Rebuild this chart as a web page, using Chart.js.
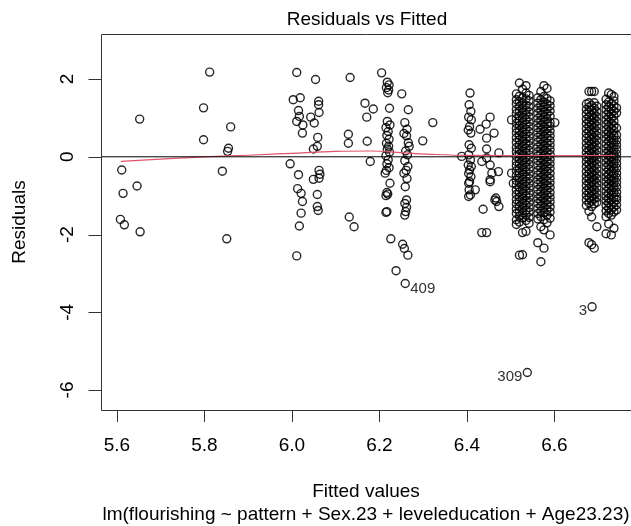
<!DOCTYPE html>
<html>
<head>
<meta charset="utf-8">
<title>Residuals vs Fitted</title>
<script src="https://cdn.jsdelivr.net/npm/chart.js@4.4.1/dist/chart.umd.min.js"></script>
<style>
  body { margin: 0; background: #fff; }
  #wrap { width: 631px; height: 526px; }
</style>
</head>
<body>
<div id="wrap"><canvas id="residChart" width="631" height="526"></canvas></div>
<script>
// axis ticks
const xTicks = [5.6, 5.8, 6.0, 6.2, 6.4, 6.6];
const yTicks = [-6, -4, -2, 0, 2];

// [fitted, residual]
const groupLow = [
  [5.611, -0.34], [5.614, -0.94], [5.646, -0.75], [5.608, -1.61], [5.617, -1.75],
  [5.653, -1.93], [5.652, 0.97], [5.812, 2.18], [5.798, 1.26], [5.798, 0.44],
  [5.841, -0.37], [5.86, 0.77], [5.855, 0.22], [5.853, 0.14], [5.851, -2.11]
];
const group60 = [
  [6.011, 2.17], [6.054, 1.99], [6.133, 2.04], [6.003, 1.47], [6.019, 1.52],
  [6.015, 1.19], [6.017, 1.04], [6.011, 0.91], [6.025, 0.82], [6.024, 0.61],
  [6.043, 1.02], [6.051, 0.87], [6.061, 1.43], [6.061, 1.34], [6.062, 1.14],
  [6.059, 0.50], [6.058, 0.27], [6.049, 0.20], [6.129, 0.58], [6.129, 0.35],
  [5.996, -0.18], [6.015, -0.46], [6.013, -0.82], [6.021, -0.94], [6.024, -1.15],
  [6.021, -1.45], [6.017, -1.78], [6.049, -0.58], [6.062, -0.35], [6.064, -0.45],
  [6.062, -0.55], [6.058, -0.97], [6.058, -1.28], [6.06, -1.38], [6.131, -1.55],
  [6.142, -1.80], [6.011, -2.55]
];
const group62 = [
  [6.205, 2.16], [6.167, 1.38], [6.186, 1.23], [6.171, 1.02], [6.172, 0.40], [6.179, -0.12],
  [6.218, 1.92], [6.222, 1.85], [6.216, 1.78], [6.221, 1.72], [6.219, 1.65], [6.223, 1.25],
  [6.218, 0.91], [6.224, 0.82], [6.215, 0.75], [6.22, 0.65], [6.217, 0.55], [6.222, 0.45],
  [6.216, 0.35], [6.221, 0.27], [6.218, 0.20], [6.223, 0.12], [6.215, 0.03], [6.22, -0.08],
  [6.217, -0.18], [6.222, -0.28], [6.216, -0.35], [6.213, -0.42], [6.224, -0.68],
  [6.217, -0.92], [6.219, -0.96], [6.215, -1.0], [6.217, -1.41], [6.215, -1.43],
  [6.226, -2.11], [6.238, -2.93],
  [6.251, 1.62], [6.266, 1.21], [6.258, 0.88], [6.263, 0.71], [6.256, 0.60], [6.262, 0.54],
  [6.266, 0.36], [6.268, 0.27], [6.26, 0.15], [6.264, 0.05], [6.258, -0.10], [6.265, -0.25],
  [6.261, -0.35], [6.256, -0.42], [6.263, -0.56], [6.259, -0.77], [6.262, -1.11],
  [6.258, -1.20], [6.262, -1.30], [6.26, -1.41], [6.258, -1.50], [6.253, -2.25],
  [6.257, -2.36], [6.265, -2.53]
];
const group64 = [
  [6.322, 0.88], [6.299, 0.41],
  [6.407, 1.64], [6.405, 1.34], [6.409, 1.17], [6.404, 1.02], [6.41, 0.95], [6.406, 0.78],
  [6.403, 0.69], [6.409, 0.61], [6.405, 0.31], [6.41, 0.22], [6.404, 0.05], [6.388, 0.01],
  [6.408, -0.08], [6.403, -0.21], [6.41, -0.25], [6.406, -0.34], [6.404, -0.43],
  [6.409, -0.51], [6.406, -0.64], [6.404, -0.68], [6.405, -0.85], [6.408, -0.98], [6.404, -1.02],
  [6.453, 1.02], [6.444, 0.84], [6.43, 0.71], [6.462, 0.61], [6.445, 0.48], [6.445, 0.20],
  [6.473, 0.10], [6.434, -0.12], [6.445, -0.03], [6.453, -0.21], [6.472, -0.38],
  [6.457, -0.42], [6.453, -0.59], [6.453, -0.64], [6.502, -0.42], [6.506, -0.68],
  [6.419, -0.85], [6.466, -1.06], [6.464, -1.11], [6.468, -1.15], [6.473, -1.28],
  [6.437, -1.35], [6.434, -1.95], [6.445, -1.95], [6.502, 0.95], [6.601, 0.88]
];

// dense columns: one fitted value per sub-column, residuals listed
const bandX = [6.513, 6.520, 6.527, 6.535, 6.542,
               6.562, 6.569, 6.576, 6.583, 6.590,
               6.673, 6.679, 6.685, 6.691, 6.697,
               6.718, 6.724, 6.730, 6.736, 6.742];
const bandY = [
  [1.62, 1.47, 1.36, 1.22, 1.11, 0.98, 0.86, 0.73, 0.62, 0.49, 0.37, 0.24, 0.13, 0.01, -0.12, -0.23, -0.36, -0.48, -0.61, -0.72, -0.85, -0.97, -1.10, -1.21, -1.34, -1.46, -1.62, -1.74],
  [1.90, 1.56, 1.42, 1.30, 1.17, 1.05, 0.92, 0.80, 0.67, 0.55, 0.43, 0.30, 0.18, 0.07, -0.06, -0.18, -0.30, -0.42, -0.55, -0.67, -0.79, -0.91, -1.04, -1.16, -1.28, -1.41, -1.53, -1.68, -2.53],
  [1.74, 1.52, 1.39, 1.26, 1.14, 1.01, 0.89, 0.76, 0.64, 0.52, 0.40, 0.27, 0.15, 0.04, -0.09, -0.21, -0.33, -0.45, -0.58, -0.70, -0.82, -0.94, -1.07, -1.19, -1.31, -1.44, -1.57, -1.95, -2.52],
  [1.83, 1.64, 1.49, 1.33, 1.20, 1.08, 0.95, 0.83, 0.70, 0.58, 0.46, 0.33, 0.21, 0.10, -0.03, -0.15, -0.27, -0.39, -0.52, -0.64, -0.76, -0.88, -1.01, -1.13, -1.25, -1.38, -1.50, -1.64, -1.92],
  [1.58, 1.44, 1.29, 1.16, 1.03, 0.90, 0.78, 0.65, 0.53, 0.41, 0.29, 0.17, 0.05, -0.07, -0.19, -0.31, -0.44, -0.56, -0.68, -0.80, -0.93, -1.05, -1.17, -1.30, -1.42, -1.56, -1.71],
  [1.52, 1.38, 1.25, 1.12, 0.99, 0.87, 0.74, 0.62, 0.50, 0.38, 0.25, 0.13, 0.02, -0.10, -0.22, -0.35, -0.47, -0.59, -0.71, -0.84, -0.96, -1.08, -1.20, -1.33, -1.46, -1.60, -2.21],
  [1.68, 1.47, 1.33, 1.20, 1.07, 0.94, 0.82, 0.69, 0.57, 0.45, 0.32, 0.20, 0.08, -0.04, -0.16, -0.28, -0.41, -0.53, -0.65, -0.77, -0.90, -1.02, -1.14, -1.27, -1.40, -1.54, -1.80, -2.70],
  [1.83, 1.55, 1.41, 1.28, 1.15, 1.02, 0.90, 0.77, 0.65, 0.53, 0.40, 0.28, 0.16, 0.04, -0.08, -0.20, -0.32, -0.45, -0.57, -0.69, -0.81, -0.94, -1.06, -1.18, -1.31, -1.44, -1.62, -1.88, -2.35],
  [1.76, 1.50, 1.36, 1.23, 1.10, 0.97, 0.85, 0.72, 0.60, 0.48, 0.35, 0.23, 0.11, -0.01, -0.13, -0.25, -0.37, -0.50, -0.62, -0.74, -0.86, -0.99, -1.11, -1.23, -1.36, -1.50, -1.70],
  [1.44, 1.31, 1.18, 1.05, 0.88, 0.79, 0.66, 0.54, 0.42, 0.30, 0.18, 0.06, -0.06, -0.18, -0.30, -0.43, -0.55, -0.67, -0.79, -0.92, -1.04, -1.16, -1.29, -1.42, -1.58, -2.01],
  [1.36, 1.22, 1.10, 0.97, 0.85, 0.72, 0.60, 0.48, 0.35, 0.23, 0.11, -0.01, -0.13, -0.25, -0.38, -0.50, -0.62, -0.74, -0.87, -0.99, -1.11, -1.25],
  [1.68, 1.39, 1.28, 1.15, 1.03, 0.90, 0.78, 0.66, 0.53, 0.41, 0.29, 0.17, 0.05, -0.07, -0.19, -0.32, -0.44, -0.56, -0.68, -0.81, -0.93, -1.05, -1.18, -1.40, -2.21],
  [1.68, 1.32, 1.19, 1.06, 0.94, 0.82, 0.69, 0.57, 0.45, 0.32, 0.20, 0.08, -0.04, -0.16, -0.28, -0.41, -0.53, -0.65, -0.77, -0.90, -1.02, -1.14, -1.28, -1.55, -2.26],
  [1.68, 1.39, 1.25, 1.12, 1.00, 0.87, 0.75, 0.63, 0.50, 0.38, 0.26, 0.14, 0.02, -0.10, -0.22, -0.35, -0.47, -0.59, -0.71, -0.84, -0.96, -1.08, -1.21, -2.35],
  [1.30, 1.16, 1.03, 0.91, 0.79, 0.66, 0.54, 0.42, 0.29, 0.17, 0.05, -0.07, -0.19, -0.31, -0.44, -0.56, -0.68, -0.80, -0.93, -1.05, -1.17, -1.80],
  [1.48, 1.34, 1.21, 1.08, 0.95, 0.83, 0.70, 0.58, 0.46, 0.33, 0.21, 0.09, -0.03, -0.15, -0.27, -0.40, -0.52, -0.64, -0.76, -0.89, -1.01, -1.13, -1.26, -1.39, -1.54, -1.98],
  [1.64, 1.41, 1.28, 1.15, 1.02, 0.89, 0.77, 0.64, 0.52, 0.40, 0.27, 0.15, 0.03, -0.09, -0.21, -0.33, -0.46, -0.58, -0.70, -0.82, -0.95, -1.07, -1.19, -1.32, -1.46, -1.73],
  [1.60, 1.37, 1.24, 1.11, 0.99, 0.86, 0.74, 0.61, 0.49, 0.37, 0.24, 0.12, 0.00, -0.12, -0.24, -0.37, -0.49, -0.61, -0.73, -0.86, -0.98, -1.10, -1.23, -1.36, -1.50, -2.01],
  [1.55, 1.44, 1.31, 1.18, 1.05, 0.92, 0.80, 0.67, 0.55, 0.43, 0.30, 0.18, 0.06, -0.06, -0.18, -0.30, -0.43, -0.55, -0.67, -0.79, -0.92, -1.04, -1.16, -1.29, -1.42, -1.84],
  [1.26, 1.13, 0.74, 0.56, 0.43, 0.31, 0.19, 0.07, -0.05, -0.17, -0.29, -0.42, -0.54, -0.66, -0.78, -0.91, -1.03, -1.11, -1.24, -1.37]
];

// labelled observations
const outlierIds = ["409", "3", "309"];
const outlierFit = [6.259, 6.686, 6.538];
const outlierRes = [-3.26, -3.86, -5.55];
const outlierSide = ["right", "left", "left"];

// smoother through the residuals
const smoothX = [5.609, 5.7, 5.8, 5.9, 6.0, 6.1, 6.18, 6.26, 6.33, 6.4, 6.5, 6.6, 6.738];
const smoothY = [-0.12, -0.06, 0.0, 0.04, 0.09, 0.14, 0.15, 0.10, 0.06, 0.035, 0.03, 0.03, 0.03];

const xRange = [5.5636, 6.775];
const yRange = [-6.515, 3.16];

const points = [];
[groupLow, group60, group62, group64].forEach(g => g.forEach(p => points.push({ x: p[0], y: p[1] })));
bandX.forEach((fx, i) => bandY[i].forEach(r => points.push({ x: fx, y: r })));
outlierFit.forEach((fx, i) => points.push({ x: fx, y: outlierRes[i] }));

const FONT = '"Liberation Sans", Arial, Helvetica, sans-serif';

// R-style frame, axes and labels
const rAxes = {
  id: "rAxes",
  afterDraw(chart) {
    const { ctx, chartArea: a, scales: { x, y } } = chart;
    ctx.save();
    ctx.strokeStyle = "#333";
    ctx.lineWidth = 1;
    ctx.beginPath();
    ctx.moveTo(a.right + 3, a.top + 0.5);
    ctx.lineTo(a.left + 0.5, a.top + 0.5);
    ctx.lineTo(a.left + 0.5, a.bottom + 0.5);
    ctx.lineTo(a.right + 3, a.bottom + 0.5);
    ctx.stroke();

    ctx.fillStyle = "#000";
    ctx.font = "19px " + FONT;
    ctx.textAlign = "center";
    ctx.textBaseline = "middle";

    // x axis
    ctx.beginPath();
    ctx.moveTo(x.getPixelForValue(xTicks[0]), a.bottom + 0.5);
    ctx.lineTo(x.getPixelForValue(xTicks[xTicks.length - 1]), a.bottom + 0.5);
    xTicks.forEach(t => {
      const px = Math.round(x.getPixelForValue(t)) + 0.5;
      ctx.moveTo(px, a.bottom);
      ctx.lineTo(px, a.bottom + 12);
    });
    ctx.stroke();
    xTicks.forEach(t => ctx.fillText(t.toFixed(1), x.getPixelForValue(t), a.bottom + 36));

    // y axis
    ctx.beginPath();
    yTicks.forEach(t => {
      const py = Math.round(y.getPixelForValue(t)) + 0.5;
      ctx.moveTo(a.left, py);
      ctx.lineTo(a.left - 12.5, py);
    });
    ctx.stroke();
    yTicks.forEach(t => {
      ctx.save();
      ctx.translate(a.left - 33, y.getPixelForValue(t));
      ctx.rotate(-Math.PI / 2);
      ctx.fillText(String(t), 0, 0);
      ctx.restore();
    });

    // axis titles
    const cx = (a.left + a.right) / 2;
    ctx.save();
    ctx.translate(20, (a.top + a.bottom) / 2);
    ctx.rotate(-Math.PI / 2);
    ctx.fillText("Residuals", 0, 0);
    ctx.restore();
    ctx.fillText("Fitted values", cx, 492);
    ctx.fillText("lm(flourishing ~ pattern + Sex.23 + leveleducation + Age23.23)", cx, 515);

    ctx.fillText("Residuals vs Fitted", cx + 1, 20);

    // observation ids
    ctx.font = "15px " + FONT;
    ctx.fillStyle = "#333";
    outlierIds.forEach((id, i) => {
      const px = x.getPixelForValue(outlierFit[i]);
      const py = y.getPixelForValue(outlierRes[i]);
      if (outlierSide[i] === "right") {
        ctx.textAlign = "left";
        ctx.fillText(id, px + 5, py + 5);
      } else {
        ctx.textAlign = "right";
        ctx.fillText(id, px - 5, py + 4);
      }
    });
    ctx.restore();
  }
};

const ctx = document.getElementById("residChart").getContext("2d");
new Chart(ctx, {
  type: "scatter",
  data: {
    datasets: [
      {
        type: "line",
        data: xRange.map(v => ({ x: v, y: 0 })),
        borderColor: "#000",
        borderWidth: 1,
        pointRadius: 0,
        order: 0
      },
      {
        type: "line",
        data: smoothX.map((v, i) => ({ x: v, y: smoothY[i] })),
        borderColor: "#DF536B",
        borderWidth: 1.2,
        pointRadius: 0,
        tension: 0.4,
        cubicInterpolationMode: "monotone",
        order: 1
      },
      {
        data: points,
        pointStyle: "circle",
        pointRadius: 4,
        pointBorderWidth: 1.4,
        borderColor: "rgba(0,0,0,0.85)",
        backgroundColor: "rgba(0,0,0,0)",
        order: 2
      }
    ]
  },
  options: {
    responsive: false,
    animation: false,
    devicePixelRatio: 1,
    layout: { autoPadding: false, padding: { left: 101, top: 34, right: 0, bottom: 116 } },
    plugins: {
      legend: { display: false },
      tooltip: { enabled: false }
    },
    scales: {
      x: { type: "linear", min: xRange[0], max: xRange[1], display: false },
      y: { type: "linear", min: yRange[0], max: yRange[1], display: false }
    }
  },
  plugins: [rAxes]
});
</script>
</body>
</html>
